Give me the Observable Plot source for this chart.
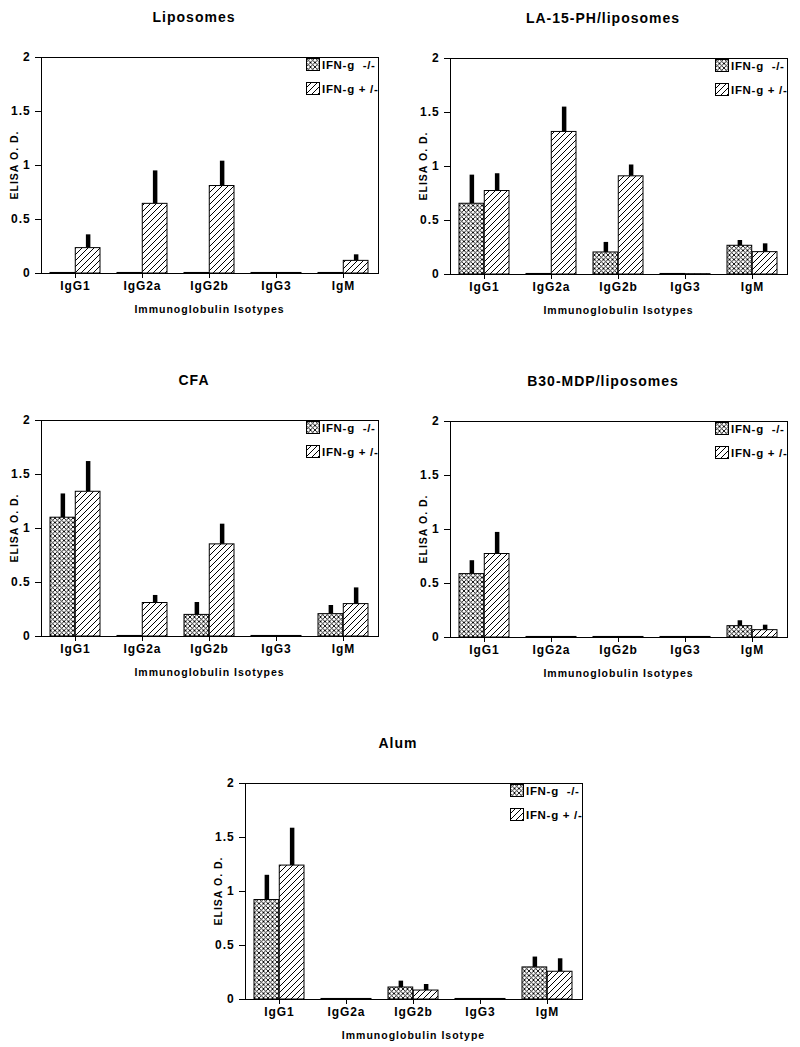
<!DOCTYPE html>
<html>
<head>
<meta charset="utf-8">
<script src="https://cdn.jsdelivr.net/npm/d3@7"></script>
<script src="https://cdn.jsdelivr.net/npm/@observablehq/plot@0.6"></script>
<style>
  html, body { margin: 0; padding: 0; background: #fff; }
  #page { position: relative; width: 800px; height: 1047px; overflow: hidden; font-family: "Liberation Sans", Arial, sans-serif; font-weight: bold; color: #000; }
  .abs { position: absolute; }
  .title { font-size: 14px; letter-spacing: 1px; text-align: center; width: 300px; line-height: 18px; }
  .xlab { font-size: 10.5px; letter-spacing: 1px; text-align: center; width: 300px; line-height: 14px; }
  .ylab { font-size: 10.5px; letter-spacing: 1px; text-align: center; width: 200px; line-height: 14px; transform: rotate(-90deg); transform-origin: 50% 50%; }
  .leg { font-size: 11.5px; letter-spacing: 0.7px; line-height: 12px; white-space: pre; }
  svg.chart text { letter-spacing: 0.9px; }
</style>
</head>
<body>
<div id="page">
<svg width="0" height="0" style="position:absolute">
  <defs>
    <pattern id="xhatch" patternUnits="userSpaceOnUse" width="4.5" height="4.5">
      <rect width="4.5" height="4.5" fill="#fff"/>
      <path d="M0,0L4.5,4.5M4.5,0L0,4.5" stroke="#000" stroke-width="0.9"/>
    </pattern>
    <pattern id="hatch" patternUnits="userSpaceOnUse" width="6" height="6">
      <rect width="6" height="6" fill="#fff"/>
      <path d="M-1,1L1,-1M0,6L6,0M5,7L7,5" stroke="#000" stroke-width="1"/>
    </pattern>
  </defs>
</svg>
</div>
<script>
// ---- Data ----
const categories = ["IgG1", "IgG2a", "IgG2b", "IgG3", "IgM"];
const seriesNames = ["IFN-g  -/-", "IFN-g + /-"];
const yTicks = [0, 0.5, 1, 1.5, 2];

const panelTitles = ["Liposomes", "LA-15-PH/liposomes", "CFA", "B30-MDP/liposomes", "Alum"];
const xAxisLabels = ["Immunoglobulin Isotypes", "Immunoglobulin Isotypes", "Immunoglobulin Isotypes", "Immunoglobulin Isotypes", "Immunoglobulin Isotype"];

// Liposomes
const liposomesKO = [0.005, 0.005, 0.005, 0.005, 0.005];
const liposomesKOErr = [0, 0, 0, 0, 0];
const liposomesWT = [0.235, 0.645, 0.81, 0.005, 0.117];
const liposomesWTErr = [0.123, 0.305, 0.23, 0, 0.056];
// LA-15-PH/liposomes
const la15KO = [0.655, 0.005, 0.204, 0.005, 0.266];
const la15KOErr = [0.265, 0, 0.093, 0, 0.049];
const la15WT = [0.773, 1.32, 0.909, 0.003, 0.207];
const la15WTErr = [0.16, 0.23, 0.105, 0, 0.077];
// CFA
const cfaKO = [1.10, 0.005, 0.20, 0.005, 0.207];
const cfaKOErr = [0.22, 0, 0.115, 0, 0.08];
const cfaWT = [1.34, 0.31, 0.853, 0.005, 0.30];
const cfaWTErr = [0.28, 0.07, 0.187, 0, 0.15];
// B30-MDP/liposomes
const b30KO = [0.587, 0.005, 0.005, 0.005, 0.105];
const b30KOErr = [0.124, 0, 0, 0, 0.05];
const b30WT = [0.773, 0.005, 0.005, 0.005, 0.068];
const b30WTErr = [0.2, 0, 0, 0, 0.046];
// Alum
const alumKO = [0.921, 0.005, 0.111, 0.005, 0.297];
const alumKOErr = [0.229, 0, 0.059, 0, 0.096];
const alumWT = [1.24, 0.005, 0.083, 0.005, 0.257];
const alumWTErr = [0.346, 0, 0.056, 0, 0.12];

// ---- Layout ----
const plotW = 337, plotH = 216;
const mL = 40, mT = 10, mR = 13, mB = 45;
const padInner = 0.25, padOuter = 0.125;
const bandW = plotW / (categories.length - padInner + 2 * padOuter) * (1 - padInner);
const half = bandW / 2;

const panels = [
  {ko: liposomesKO, koErr: liposomesKOErr, wt: liposomesWT, wtErr: liposomesWTErr, L: 41, T: 57},
  {ko: la15KO, koErr: la15KOErr, wt: la15WT, wtErr: la15WTErr, L: 450, T: 58},
  {ko: cfaKO, koErr: cfaKOErr, wt: cfaWT, wtErr: cfaWTErr, L: 41, T: 420},
  {ko: b30KO, koErr: b30KOErr, wt: b30WT, wtErr: b30WTErr, L: 450, T: 421},
  {ko: alumKO, koErr: alumKOErr, wt: alumWT, wtErr: alumWTErr, L: 245, T: 783}
];

const page = document.getElementById("page");
function addDiv(cls, text, left, top) {
  const d = document.createElement("div");
  d.className = "abs " + cls;
  d.textContent = text;
  d.style.left = left + "px";
  d.style.top = top + "px";
  page.appendChild(d);
  return d;
}
function addSwatch(fill, left, top) {
  const ns = "http://www.w3.org/2000/svg";
  const s = document.createElementNS(ns, "svg");
  s.setAttribute("width", 14); s.setAttribute("height", 13);
  s.style.position = "absolute"; s.style.left = left + "px"; s.style.top = top + "px";
  const r = document.createElementNS(ns, "rect");
  r.setAttribute("x", 0.5); r.setAttribute("y", 0.5); r.setAttribute("width", 13); r.setAttribute("height", 12);
  r.setAttribute("fill", fill); r.setAttribute("stroke", "#000"); r.setAttribute("stroke-width", 1);
  s.appendChild(r);
  page.appendChild(s);
}

panels.forEach((p, k) => {
  const ko = categories.map((c, i) => ({cat: c, v: p.ko[i], e: p.koErr[i]}));
  const wt = categories.map((c, i) => ({cat: c, v: p.wt[i], e: p.wtErr[i]}));
  const chart = Plot.plot({
    width: mL + plotW + mR,
    height: mT + plotH + mB,
    marginLeft: mL, marginTop: mT, marginRight: mR, marginBottom: mB,
    className: "chart",
    style: {fontFamily: "'Liberation Sans', Arial, sans-serif", fontSize: "12px", fontWeight: "bold", background: "transparent", color: "#000", overflow: "visible"},
    x: {domain: categories, paddingInner: padInner, paddingOuter: padOuter, align: 0.5, label: null},
    y: {domain: [0, 2], label: null},
    marks: [
      Plot.ruleX(ko.filter(d => d.e > 0), {x: "cat", y1: "v", y2: d => d.v + d.e, stroke: "#000", strokeWidth: 4.5, dx: -half / 2}),
      Plot.ruleX(wt.filter(d => d.e > 0), {x: "cat", y1: "v", y2: d => d.v + d.e, stroke: "#000", strokeWidth: 4.5, dx: half / 2}),
      Plot.barY(ko, {x: "cat", y: "v", fill: "url(#xhatch)", stroke: "#000", strokeWidth: 1, insetRight: half}),
      Plot.barY(wt, {x: "cat", y: "v", fill: "url(#hatch)", stroke: "#000", strokeWidth: 1, insetLeft: half}),
      Plot.axisY({ticks: yTicks, tickFormat: d => String(d), tickSize: 6, tickPadding: 5, label: null, fontSize: 12}),
      Plot.axisX({tickSize: 5, tickPadding: 3, label: null, fontSize: 12}),
      Plot.frame({stroke: "#000", strokeWidth: 1})
    ]
  });
  chart.style.position = "absolute";
  chart.style.left = (p.L - mL) + "px";
  chart.style.top = (p.T - mT) + "px";
  page.appendChild(chart);

  addDiv("title", panelTitles[k], p.L + 153 - 150, p.T - 40 - 9);
  addDiv("xlab", xAxisLabels[k], p.L + plotW / 2 - 150, p.T + plotH + 36 - 7);
  addDiv("ylab", "ELISA O. D.", p.L - 27 - 100, p.T + plotH / 2 - 7);
  const sx = p.L + plotW - 72;
  addSwatch("url(#xhatch)", sx, p.T + 1);
  addSwatch("url(#hatch)", sx, p.T + 25);
  addDiv("leg", seriesNames[0], sx + 16, p.T + 2);
  addDiv("leg", seriesNames[1], sx + 16, p.T + 26);
});
</script>
</body>
</html>
